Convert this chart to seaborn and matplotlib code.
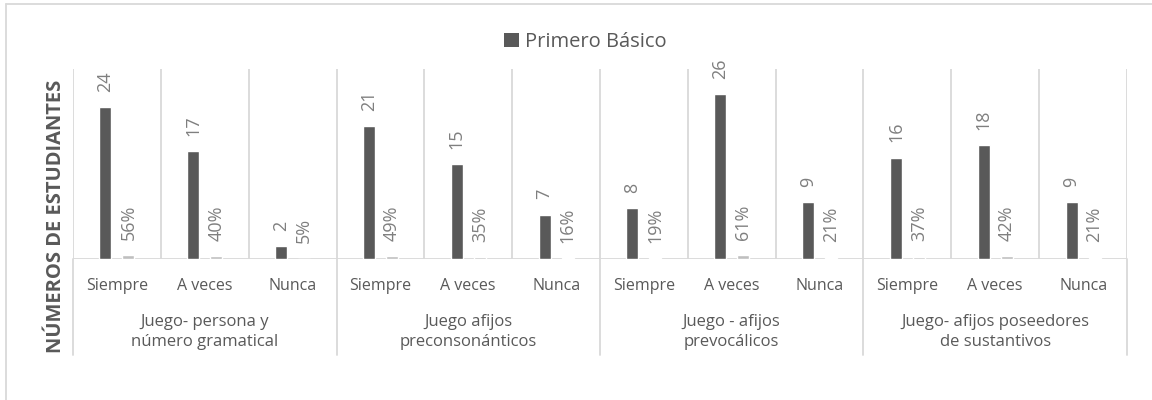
import matplotlib
matplotlib.use("Agg")
import matplotlib.pyplot as plt
import matplotlib.transforms as mtransforms
from matplotlib.patches import Patch
import seaborn as sns
import pandas as pd

# ---- data ----
grupos = [
    "Juego- persona y\nnúmero gramatical",
    "Juego afijos\npreconsonánticos",
    "Juego - afijos\nprevocálicos",
    "Juego- afijos poseedores\nde sustantivos",
]
respuestas = ["Siempre", "A veces", "Nunca"]
estudiantes = [24, 17, 2, 21, 15, 7, 8, 26, 9, 16, 18, 9]
porcentajes = [0.56, 0.40, 0.05, 0.49, 0.35, 0.16, 0.19, 0.61, 0.21, 0.37, 0.42, 0.21]
serie = "Primero Básico"
serie_pct = "Porcentaje"

sns.set_theme(style="white")
plt.rcParams["font.family"] = ["Open Sans", "DejaVu Sans"]

claves = [f"{g}|{r}" for g in grupos for r in respuestas]
df = pd.DataFrame({
    "clave": claves * 2,
    "valor": estudiantes + porcentajes,
    "serie": [serie] * len(claves) + [serie_pct] * len(claves),
})

oscuro = "#595959"
claro = "#bfbfbf"
rejilla = "#d9d9d9"
texto = "#595959"
etiqueta = "#7f7f7f"

fig = plt.figure(figsize=(11.52, 4), dpi=100)
W, H = 1152, 400
ax = fig.add_axes([73 / W, (H - 259) / H, 1054 / W, 190 / H])

sns.barplot(data=df, x="clave", y="valor", hue="serie", order=claves,
            hue_order=[serie, serie_pct], palette=[oscuro, claro],
            width=0.524, gap=0.48, saturation=1, legend=False, ax=ax)

ax.set_xlim(-0.5, len(claves) - 0.5)
ax.set_ylim(0, 30)
ax.set_yticks([])
ax.set_xlabel("")
ax.set_ylabel("")
for s in ax.spines.values():
    s.set_visible(False)

# value labels above the bars
ax.bar_label(ax.containers[0], labels=[str(v) for v in estudiantes],
             rotation=90, padding=11, fontsize=13, color=etiqueta)
ax.bar_label(ax.containers[1], labels=[f"{round(v * 100)}%" for v in porcentajes],
             rotation=90, padding=11, fontsize=13, color=etiqueta)

# category gridlines and baseline
for xb in [i - 0.5 for i in range(len(claves) + 1)]:
    ax.axvline(xb, color=rejilla, lw=1.3, zorder=0)
ax.axhline(0, color=rejilla, lw=1.3, zorder=0)

# two-level category axis
ax.set_xticks(range(len(claves)))
ax.set_xticklabels(respuestas * len(grupos), fontsize=11.5, color=texto)
ax.tick_params(axis="x", length=0, pad=14)

trans = mtransforms.blended_transform_factory(ax.transData, ax.transAxes)
for gi, g in enumerate(grupos):
    ax.text(gi * 3 + 1, -73 / 190, g, transform=trans, ha="center", va="center",
            fontsize=12, color=texto, linespacing=1.3)
for xb in [gi * 3 - 0.5 for gi in range(len(grupos) + 1)]:
    ax.plot([xb, xb], [0, -96 / 190], transform=trans, color=rejilla,
            lw=1.3, clip_on=False)

fig.text(56 / W, 1 - 216 / H, "NÚMEROS DE ESTUDIANTES", rotation=90,
         ha="center", va="center", fontsize=14.5, fontweight="bold", color=texto)

fig.legend(handles=[Patch(facecolor=oscuro, edgecolor="none", label=serie)],
           loc="center", bbox_to_anchor=(585 / W, 1 - 42 / H), frameon=False,
           fontsize=14.5, labelcolor=texto, handlelength=0.75, handleheight=0.75,
           handletextpad=0.3, borderaxespad=0)

# chart frame (top and left edges)
fig.add_artist(plt.Line2D([6 / W, 6 / W], [0, 1 - 4 / H], transform=fig.transFigure,
                          color=rejilla, lw=1.3))
fig.add_artist(plt.Line2D([6 / W, 1], [1 - 4 / H, 1 - 4 / H], transform=fig.transFigure,
                          color=rejilla, lw=1.3))

fig.savefig("out.png", dpi=100, facecolor="white")
